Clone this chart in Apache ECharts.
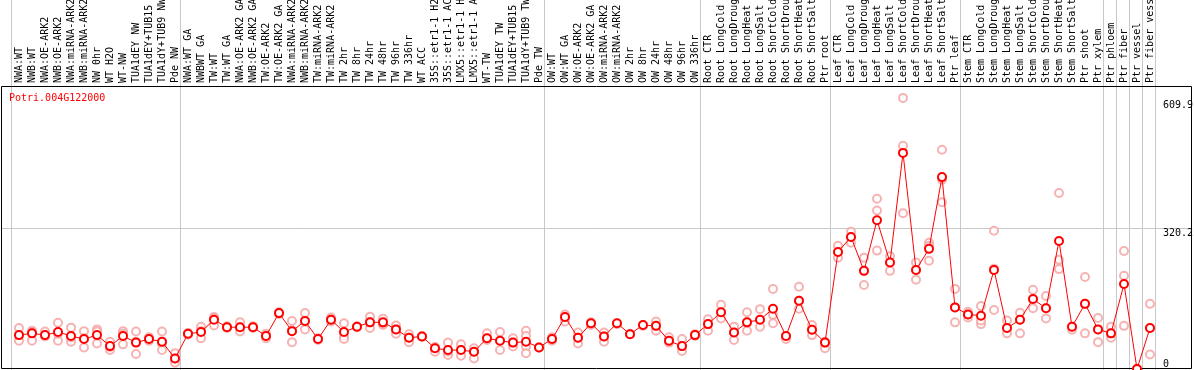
<!DOCTYPE html>
<html><head><meta charset="utf-8">
<script src="https://cdn.jsdelivr.net/npm/echarts@6/dist/echarts.min.js"></script>
<style>html,body{margin:0;padding:0;background:#fff}#c{width:1194px;height:370px}</style>
</head><body><div id="c"></div>
<script>
const geneTitle = 'Potri.004G122000';
const categories = [
 'NWA:WT','NWB:WT','NWA:OE-ARK2','NWB:OE-ARK2','NWA:miRNA-ARK2','NWB:miRNA-ARK2','NW 0hr','WT H2O','WT-NW','TUA1dEY NW','TUA1dEY+TUB15 NW','TUA1dY+TUB9 NW','Pde NW',
 'NWA:WT GA','NWBWT GA','TW:WT','TW:WT GA','NWA:OE-ARK2 GA','NWB:OE-ARK2 GA','TW:OE-ARK2','TW:OE-ARK2 GA','NWA:miRNA-ARK2 GA','NWB:miRNA-ARK2 GA','TW:miRNA-ARK2','TW:miRNA-ARK2 GA','TW 2hr','TW 8hr','TW 24hr','TW 48hr','TW 96hr','TW 336hr','WT ACC','35S::etr1-1 H2O','35S::etr1-1 ACC','LMX5::etr1-1 H2O','LMX5::etr1-1 ACC','WT-TW','TUA1dEY TW','TUA1dEY+TUB15 TW','TUA1dY+TUB9 TW','Pde TW',
 'OW:WT','OW:WT GA','OW:OE-ARK2','OW:OE-ARK2 GA','OW:miRNA-ARK2','OW:miRNA-ARK2 GA','OW 2hr','OW 8hr','OW 24hr','OW 48hr','OW 96hr','OW 336hr',
 'Root CTR','Root LongCold','Root LongDrought','Root LongHeat','Root LongSalt','Root ShortCold','Root ShortDrought','Root ShortHeat','Root ShortSalt','Ptr root',
 'Leaf CTR','Leaf LongCold','Leaf LongDrought','Leaf LongHeat','Leaf LongSalt','Leaf ShortCold','Leaf ShortDrought','Leaf ShortHeat','Leaf ShortSalt','Ptr leaf',
 'Stem CTR','Stem LongCold','Stem LongDrought','Stem LongHeat','Stem LongSalt','Stem ShortCold','Stem ShortDrought','Stem ShortHeat','Stem ShortSalt','Ptr shoot','Ptr xylem',
 'Ptr phloem','Ptr fiber','Ptr vessel','Ptr fiber vessel'
];
// group boundaries (category index where a separator line is drawn)
const groupBreaks = [0, 13, 41, 53, 63, 73, 84, 85, 86, 87, 88];
const means = [
 77,81,77,84,75,68,77,52,75,60,68,62,24,
 80,84,112,95,95,95,75,127,86,109,68,112,84,96,106,106,90,71,74,47,43,43,39,70,64,60,62,49,
 68,118,71,104,74,104,79,100,98,64,52,77,
 102,129,83,106,112,137,75,155,89,60,
 266,300,223,338,242,491,225,273,436,140,
 124,121,225,93,112,159,138,291,96,148,90,
 81,193,0,93
];
const replicates = [
 [93,64,77],[87,64,84],[85,74,77],[105,64,80],[94,62,72],[86,49,70],[90,58,85],[62,43,50],[86,56,80],[85,34,62],[72,64,68],[85,58,43,62],[36,14,24],
 [80,82,78],[96,70,86],[118,99,115],[95,97,93],[106,85,95],[95,97,93],[80,70,75],[127,129,125],[109,61,88],[127,90,109],[68,70,66],[117,108,112],[104,74,68],[97,95,96],[119,93,106],[114,100,104],[99,80,90],[79,61,71],[75,73,74],[39,47,50],[60,32,40],[56,30,43],[47,24,39],[81,66,70],[84,43,64],[70,51,60],[87,75,51,36],[49,49],
 [72,64,68],[124,108,118],[83,58,71],[106,100,104],[83,62,74],[104,102],[79,80],[100,98],[108,87,98],[72,60,64],[68,41,52],[79,75,77],
 [113,87,102],[146,115,129],[96,66,83],[129,87,106],[136,96,112],[182,123,104],[68,75],[187,137,155],[100,77,89],[47,60,62],
 [280,253,266],[312,287,300],[253,191,223],[387,360,269],[256,223,242],[616,507,354],[242,203,225],[287,246,280],[498,430,379],[182,106,140],
 [130,117,124],[143,102,110],[314,228,134],[110,81,93],[128,81,112],[180,138,159],[166,115,138],[400,248,227],[89,96],[209,81,148],[116,61,90],
 [96,71,81],[268,212,98],[0,0],[148,33,93]
];
const yTickLabels = [320.2, 609.9];
const yZeroLabel = [0];
const gridLineValue = 320.2;
const yMax = 643;

const font = 'DejaVu Sans Mono';
const repData = [];
replicates.forEach((arr, i) => arr.forEach(v => repData.push([i, v])));

const chart = echarts.init(document.getElementById('c'), null, {renderer: 'canvas'});
const option = {
  animation: false,
  backgroundColor: '#fff',
  title: {text: geneTitle, left: 9, top: 93, padding: 0,
    textStyle: {color: '#ff0000', fontFamily: font, fontSize: 10, fontWeight: 'normal'}},
  grid: {left: 12.5, right: 37.5, top: 86, bottom: 1, containLabel: false, outerBoundsMode: 'none'},
  xAxis: [{
    type: 'category', data: categories, position: 'top', boundaryGap: true,
    axisLine: {show: false}, axisTick: {show: false}, splitLine: {show: false},
    axisLabel: {interval: 0, rotate: 90, margin: 3, color: '#000', fontFamily: font, fontSize: 10}
  }],
  yAxis: [{
    type: 'value', min: 0, max: yMax, position: 'right',
    axisLine: {show: false}, axisTick: {show: false}, splitLine: {show: false},
    axisLabel: {customValues: yTickLabels, margin: 6.5, color: '#000', fontFamily: font, fontSize: 10, verticalAlign: 'top'}
  }, {
    type: 'value', min: 0, max: yMax, position: 'right',
    axisLine: {show: false}, axisTick: {show: false}, splitLine: {show: false},
    axisLabel: {customValues: yZeroLabel, margin: 6.5, color: '#000', fontFamily: font, fontSize: 10, verticalAlign: 'bottom'}
  }],
  series: [{
    type: 'scatter', data: repData, symbol: 'emptyCircle', symbolSize: 8,
    itemStyle: {color: '#f2a0a0', borderColor: '#f2a0a0', borderWidth: 1.2}, z: 2, silent: true
  }, {
    type: 'line', data: means, symbol: 'emptyCircle', symbolSize: 8, showAllSymbol: true,
    lineStyle: {color: '#ff0000', width: 1}, itemStyle: {color: '#ff0000', borderColor: '#e00000', borderWidth: 1.3}, z: 3, silent: true
  }]
};
chart.setOption(option);

// separator lines and border, positioned through the library's scales
const c0 = chart.convertToPixel({xAxisIndex: 0}, 0);
const c1 = chart.convertToPixel({xAxisIndex: 0}, 1);
const band = c1 - c0;
const graphics = [];
groupBreaks.forEach(k => {
  const x = Math.round(c0 + band * k - band / 2 - 1.5) + 0.5;
  graphics.push({type: 'line', shape: {x1: x, y1: 0, x2: x, y2: 370}, style: {stroke: '#c8c8c8', lineWidth: 1}, z: 0, silent: true});
});
const gy = Math.round(chart.convertToPixel({yAxisIndex: 0}, gridLineValue)) + 0.5;
graphics.push({type: 'line', shape: {x1: 1, y1: gy, x2: 1192, y2: gy}, style: {stroke: '#c8c8c8', lineWidth: 1}, z: 0, silent: true});
const yTop = Math.round(chart.convertToPixel({yAxisIndex: 0}, yMax)) + 0.5;
const yBot = Math.round(chart.convertToPixel({yAxisIndex: 0}, 0)) - 0.5;
graphics.push({type: 'rect', shape: {x: 1.5, y: yTop, width: 1190, height: yBot - yTop}, style: {fill: null, stroke: '#000', lineWidth: 1}, z: 1, silent: true});
chart.setOption({graphic: graphics});
</script></body></html>
